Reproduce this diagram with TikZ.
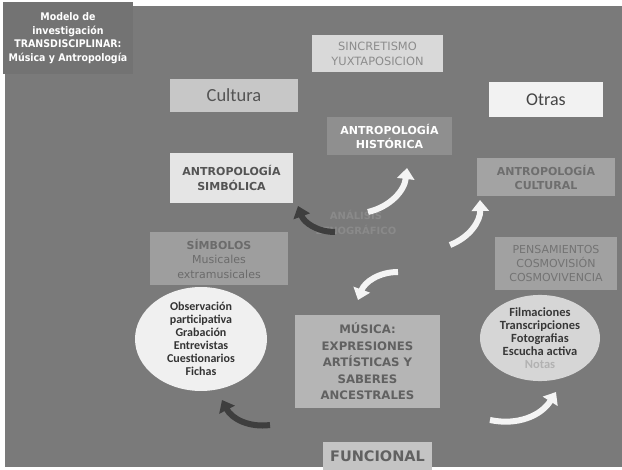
\documentclass[tikz,border=0pt]{standalone}
\usepackage{fontspec}
\setmainfont{DejaVu Sans}
\newfontfamily\calibri{Carlito}
\newfontfamily\estrecha{DejaVu Sans Condensed}
\usetikzlibrary{arrows.meta,shapes.geometric}

\definecolor{fondo}{HTML}{7A7A7A}
\definecolor{titulo}{HTML}{737373}
\definecolor{flechaclara}{HTML}{F4F4F4}
\definecolor{flechaoscura}{HTML}{3E3E3E}

\tikzset{
  caja/.style={draw=none, align=center, inner sep=0pt},
  elipse/.style={ellipse, draw=none, align=center, inner sep=0pt},
  flecha/.style={line width=6pt, -{Triangle[width=17pt,length=11pt]}},
}

\begin{document}
\begin{tikzpicture}[x=1pt,y=-1pt]
\useasboundingbox (0,0) rectangle (622,470);
\fill[white] (0,0) rectangle (622,470);
\fill[fondo] (5,6) rectangle (622,467);

% cajas
\node[caja, fill=titulo, minimum width=130pt, minimum height=72pt, text=white,
  font=\estrecha\bfseries\fontsize{10.5}{13.5}\selectfont] (titulo) at (68,38)
  {Modelo de\\investigación\\TRANSDISCIPLINAR:\\Música y Antropología};

\node[caja, fill=black!15, minimum width=131pt, minimum height=37pt, text=black!45,
  font=\fontsize{11.4}{15}\selectfont] (sincretismo) at (377.5,53.5)
  {SINCRETISMO\\YUXTAPOSICION};

\node[caja, fill=black!22, minimum width=128pt, minimum height=33pt, text=black!67,
  font=\calibri\fontsize{18.5}{20}\selectfont] (cultura) at (234,95.5) {Cultura};

\node[caja, fill=black!44, minimum width=125pt, minimum height=38pt, text=white,
  font=\bfseries\fontsize{11}{14}\selectfont] (historica) at (389.5,136)
  {ANTROPOLOGÍA\\HISTÓRICA};

\node[caja, fill=black!5, minimum width=114pt, minimum height=35pt, text=black!73,
  font=\calibri\fontsize{18}{20}\selectfont] (otras) at (546,99.5) {Otras};

\node[caja, fill=black!36, minimum width=138pt, minimum height=38pt, text=black!57,
  font=\bfseries\fontsize{11}{14}\selectfont] (cultural) at (546,177)
  {ANTROPOLOGÍA\\CULTURAL};

\node[caja, fill=black!10, minimum width=123pt, minimum height=50pt, text=black!67,
  font=\bfseries\fontsize{11}{15}\selectfont] (simbolica) at (231.5,178)
  {ANTROPOLOGÍA\\SIMBÓLICA};

\node[caja, fill=black!38, minimum width=138pt, minimum height=53pt, text=black!58,
  font=\fontsize{11}{14.5}\selectfont] (simbolos) at (219,258.5)
  {\textbf{SÍMBOLOS}\\Musicales\\extramusicales};

\node[caja, fill=black!37, minimum width=122pt, minimum height=53pt, text=black!55,
  font=\fontsize{11}{14}\selectfont] (pensamientos) at (556,263.5)
  {PENSAMIENTOS\\COSMOVISIÓN\\COSMOVIVENCIA};

\node[caja, text=black!46, font=\bfseries\fontsize{10}{15}\selectfont] (analisis)
  at (356,222) {ANÁLISIS\\ETNOGRÁFICO};

\node[elipse, fill=black!6, minimum width=132pt, minimum height=88pt, text=black!80,
  font=\calibri\bfseries\fontsize{12}{13}\selectfont] (tecnicas) at (201,339)
  {Observación\\participativa\\Grabación\\Entrevistas\\Cuestionarios\\Fichas};

\node[caja, fill=black!29, minimum width=145pt, minimum height=93pt, text=black!62,
  font=\bfseries\fontsize{11.7}{16.5}\selectfont] (musica) at (367.5,361.5)
  {MÚSICA:\\EXPRESIONES\\ARTÍSTICAS Y\\SABERES\\ANCESTRALES};

\node[caja, fill=black!23, minimum width=109pt, minimum height=28pt, text=black!62,
  font=\bfseries\fontsize{14.5}{15}\selectfont] (funcional) at (377.5,456)
  {FUNCIONAL};

\node[elipse, fill=black!16, minimum width=120pt, minimum height=80pt, text=black!78,
  font=\calibri\bfseries\fontsize{12.5}{13}\selectfont] (registros) at (540,338)
  {Filmaciones\\Transcripciones\\Fotografias\\Escucha activa\\\textcolor{black!30}{Notas}};

% flechas
\coordinate (a1) at (368,212); \coordinate (b1) at (407,168);
\coordinate (a2) at (335,232); \coordinate (b2) at (298,206);
\coordinate (a3) at (450,245); \coordinate (b3) at (480,200);
\coordinate (a4) at (398,272); \coordinate (b4) at (358,300);
\coordinate (a5) at (270,425); \coordinate (b5) at (222,400);
\coordinate (a6) at (490,420); \coordinate (b6) at (556,392);

\draw[flecha, flechaclara] (a1) to[bend right=35] (b1);
\draw[flecha, flechaoscura] (a2) to[bend left=35] (b2);
\draw[flecha, flechaclara] (a3) to[bend right=35] (b3);
\draw[flecha, flechaclara] (a4) to[bend right=35] (b4);
\draw[flecha, flechaoscura] (a5) to[bend left=35] (b5);
\draw[flecha, flechaclara] (a6) to[bend right=35] (b6);
\end{tikzpicture}
\end{document}
